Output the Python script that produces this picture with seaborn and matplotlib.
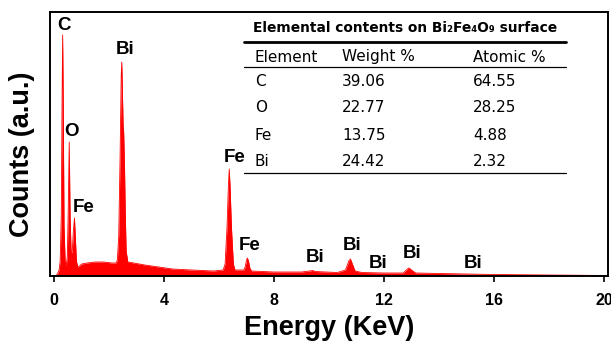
import matplotlib
matplotlib.use("Agg")
import matplotlib.pyplot as plt
from matplotlib.lines import Line2D
import pandas as pd
import seaborn as sns

# EDS spectrum of the Bi2Fe4O9 surface (energy in keV, counts in arbitrary units)
energy_kev = [0.05, 0.12, 0.18, 0.22, 0.26, 0.29, 0.31, 0.33, 0.36, 0.40,
              0.44, 0.48, 0.51, 0.55, 0.58, 0.62, 0.66, 0.70, 0.74, 0.77,
              0.81, 0.86, 0.92, 1.00, 1.20, 1.50, 1.80, 2.10, 2.25, 2.30,
              2.35, 2.40, 2.44, 2.46, 2.48, 2.51, 2.53, 2.56, 2.59, 2.62,
              2.68, 2.90, 3.30, 3.80, 4.30, 5.00, 5.80, 6.15, 6.22, 6.29,
              6.34, 6.37, 6.40, 6.45, 6.52, 6.58, 6.90, 6.95, 7.00, 7.03,
              7.07, 7.12, 7.18, 8.00, 9.00, 9.30, 9.40, 9.50, 10.30, 10.60,
              10.72, 10.78, 10.85, 10.95, 11.20, 12.00, 12.70, 12.85, 12.92, 13.00,
              13.15, 14.00, 15.00, 16.00, 18.00, 20.20]
counts = [0, 2, 6, 15, 60, 180, 241, 180, 50, 15,
          10, 20, 60, 134, 60, 22, 25, 45, 58, 40,
          15, 9, 10, 12, 13, 14, 14, 13, 13, 16,
          40, 120, 200, 214, 190, 150, 144, 110, 60, 25,
          14, 13, 11, 9, 7, 6, 5, 6, 12, 49,
          90, 107, 90, 49, 12, 6, 6, 9, 16, 18,
          15, 8, 5, 4, 4, 5, 5.5, 4.5, 3.5, 6,
          15, 17, 12, 5, 3.5, 3, 3, 7, 8, 6,
          3, 2.5, 2, 1.5, 1, 0.5]

x_ticks = [0, 4, 8, 12, 16, 20]

# peak assignments
peak_names = ["C", "O", "Fe", "Bi", "Fe", "Fe", "Bi", "Bi", "Bi", "Bi", "Bi"]

# elemental composition table
table_title = "Elemental contents on Bi\u2082Fe\u2084O\u2089 surface"
table_header = ["Element", "Weight %", "Atomic %"]
table_elements = ["C", "O", "Fe", "Bi"]
weight_pct = ["39.06", "22.77", "13.75", "24.42"]
atomic_pct = ["64.55", "28.25", "4.88", "2.32"]

sns.set_style("white")
plt.rcParams["font.family"] = ["Liberation Sans", "DejaVu Sans"]
plt.rcParams["text.color"] = "black"
plt.rcParams["axes.labelcolor"] = "black"
plt.rcParams["xtick.color"] = "black"

W, H = 611, 343
fig = plt.figure(figsize=(W / 100, H / 100), dpi=100)
ax = fig.add_axes([50 / W, (H - 276) / H, 558 / W, 264 / H])

df = pd.DataFrame({"Energy": energy_kev, "Counts": counts})
sns.lineplot(data=df, x="Energy", y="Counts", color="red", lw=0.6, ax=ax)
ax.fill_between(df["Energy"], df["Counts"], color="red", lw=0)

ax.set_xlim(-0.15, 20.15)
ax.set_ylim(0, 264)
ax.set_yticks([])
ax.set_xticks(x_ticks)
ax.set_xticklabels([str(t) for t in x_ticks], fontsize=11.5, fontweight="bold")
ax.tick_params(axis="x", direction="out", length=4, width=1.2, pad=8,
               bottom=True, color="black", labelcolor="black")
for sp in ax.spines.values():
    sp.set_color("black")
    sp.set_linewidth(1.4)

ax.set_xlabel("Energy (KeV)", fontsize=19.5, fontweight="bold", labelpad=5,
              color="black")
ax.set_ylabel("Counts (a.u.)", fontsize=19.5, fontweight="bold", color="black")
ax.yaxis.set_label_coords(-0.027, 0.46)

# peak labels, placed in data coordinates near each peak
label_xy = [(0.36, 250), (0.65, 145), (1.09, 69), (2.58, 227), (6.55, 118),
            (7.13, 31), (9.49, 18), (10.84, 31), (11.78, 13), (13.02, 22),
            (15.24, 12)]
for name, (lx, ly) in zip(peak_names, label_xy):
    ax.text(lx, ly, name, ha="center", va="center", fontsize=13.5,
            fontweight="bold", color="black")

# composition table inset (pixel positions converted to figure fraction)
def fx(px):
    return px / W

def fy(py):
    return 1 - py / H

tfont = "DejaVu Sans"
fig.text(fx(253), fy(28), table_title, ha="left", va="center",
         fontsize=9.9, fontweight="bold", family=tfont, color="black")
fig.add_artist(Line2D([fx(244), fx(566)], [fy(42), fy(42)], lw=2.0,
                      color="black", transform=fig.transFigure))
col_x = [255, 342, 473]
for cx, txt in zip(col_x, table_header):
    fig.text(fx(cx), fy(57), txt, ha="left", va="center", fontsize=11,
             family=tfont, color="black")
fig.add_artist(Line2D([fx(244), fx(566)], [fy(67), fy(67)], lw=0.9,
                      color="black", transform=fig.transFigure))
row_y = [82, 108, 135, 162]
for ry, el, wp, ap in zip(row_y, table_elements, weight_pct, atomic_pct):
    for cx, txt in zip(col_x, (el, wp, ap)):
        fig.text(fx(cx), fy(ry), txt, ha="left", va="center", fontsize=11,
                 family=tfont, color="black")
fig.add_artist(Line2D([fx(244), fx(566)], [fy(173), fy(173)], lw=0.9,
                      color="black", transform=fig.transFigure))

fig.savefig("out.png", dpi=100, facecolor="white")
